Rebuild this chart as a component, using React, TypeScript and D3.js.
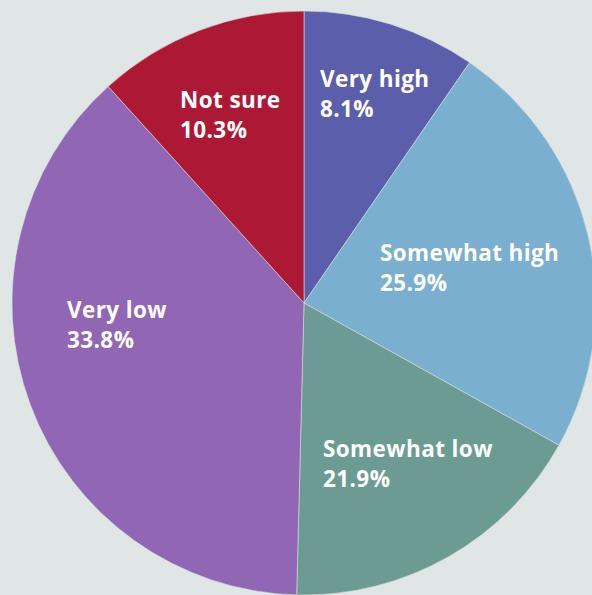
import React from "react";
import * as d3 from "d3";

// Categories and their printed shares (%)
const categories = ["Very high", "Somewhat high", "Somewhat low", "Very low", "Not sure"];
const printedShares = [8.1, 25.9, 21.9, 33.8, 10.3];
// Slice sizes as drawn in the reference (the original artwork's angles, %)
const drawnShares = [9.6, 23.5, 17.3, 37.9, 11.7];
const colors = ["#5b5fab", "#7aafcf", "#6b9b93", "#9166b4", "#ad1934"];

const W = 592;
const H = 595;
const cx = 304;
const cy = 303;
const R = 292;

// label anchors (left x, first baseline y)
const labelPos: [number, number][] = [
  [320, 87],
  [380, 261],
  [323, 457],
  [67, 318],
  [180, 108],
];

export default function App() {
  const pie = d3
    .pie<number>()
    .sort(null)
    .value((d) => d)
    .startAngle(0)
    .endAngle(2 * Math.PI);
  const arcs = pie(drawnShares);
  const arc = d3.arc<d3.PieArcDatum<number>>().innerRadius(0).outerRadius(R);

  return (
    <svg
      width={W}
      height={H}
      style={{ position: "absolute", left: 0, top: 0, display: "block" }}
      fontFamily="'Open Sans', 'Noto Sans', sans-serif"
    >
      <rect x={0} y={0} width={W} height={H} fill="#e0e5e5" />
      <g transform={`translate(${cx},${cy})`}>
        {arcs.map((a, i) => (
          <path key={i} d={arc(a) || ""} fill={colors[i]} stroke="#d6dde0" strokeWidth={0.6} />
        ))}
      </g>
      {categories.map((c, i) => (
        <text
          key={c}
          x={labelPos[i][0]}
          y={labelPos[i][1]}
          fill="#ffffff"
          fontWeight="bold"
          fontSize={22.5}
          letterSpacing={0.4}
        >
          <tspan x={labelPos[i][0]}>{c}</tspan>
          <tspan x={labelPos[i][0]} dy={29.5}>
            {printedShares[i].toFixed(1)}%
          </tspan>
        </text>
      ))}
    </svg>
  );
}
